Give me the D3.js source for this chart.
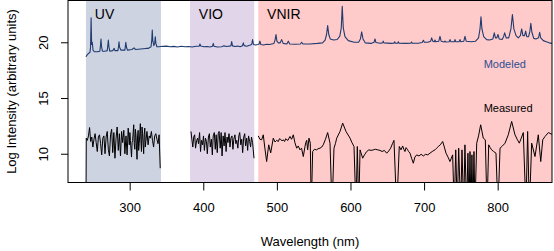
<!DOCTYPE html>
<html>
<head>
<meta charset="utf-8">
<script src="https://cdn.jsdelivr.net/npm/d3@7"></script>
<style>
  body { margin: 0; background: #fff; }
  svg { display: block; font-family: "Liberation Sans", Arial, Helvetica, sans-serif; }
</style>
</head>
<body>
<svg width="554" height="251"></svg>
<script>
// Spectral regions (nm)
const regions = [
  { name: "UV",   start: 240.6, end: 342.5, color: "#cdd3e1" },
  { name: "VIO",  start: 382.0, end: 469.3, color: "#e1d5ea" },
  { name: "VNIR", start: 474.7, end: 880.0, color: "#ffcaca" }
];

const xTicks = [300, 400, 500, 600, 700, 800];
const yTicks = [10, 15, 20];

// Modeled spectrum [wavelength, log intensity]
const modeled = [
  [240.6,18.70],[242,18.85],[244,19.00],[246,19.10],[246.8,19.5],[247.6,22.2],[248.3,19.8],[249.2,20.0],[250.2,19.3],
  [252,19.15],[256,19.15],[259.5,19.2],[260.3,19.7],[261,20.3],[261.8,19.6],[263,19.2],[266,19.2],[269.5,19.25],
  [270.3,19.7],[271,20.2],[271.8,19.6],[273,19.2],[277,19.25],[279,19.45],[280,19.25],[284,19.25],[284.8,19.6],
  [285.5,20.05],[286.3,19.55],[288,19.3],[293.5,19.3],[294.2,19.7],[294.8,20.0],[295.5,19.6],[297,19.3],[303,19.35],
  [306,19.5],[308,19.35],[315,19.4],[322,19.45],[325,19.45],[329,19.6],[330,20.2],[330.7,21.1],[331.5,20.1],
  [332.8,19.7],[334,19.9],[334.8,20.5],[335.6,19.9],[337,19.6],[340,19.6],[342,19.62],[350,19.66],[355,19.6],
  [360,19.63],[365,19.58],[370,19.65],[375,19.6],[380,19.62],[385,19.58],[390,19.64],[394.5,19.66],[395.5,19.85],
  [396.5,19.66],[401,19.6],[405,19.62],[409,19.58],[412.5,19.64],[413.6,19.9],[414.6,19.64],[419,19.58],[425,19.6],
  [428,19.68],[432,19.62],[437.5,19.68],[438.6,20.06],[439.7,19.68],[443,19.62],[447,19.66],[450,19.6],
  [453.3,19.7],[454.4,19.95],[455.5,19.7],[459,19.65],[462,19.72],[465.8,19.8],[467,20.24],[468.2,19.8],[471,19.75],[474,19.8],
  [475.8,19.85],[477,20.1],[478.2,19.8],[482,19.75],[486,19.82],[490,19.8],[496,19.9],[497.5,20.2],[498.8,20.7],[500,20.1],
  [502,19.95],[504.5,19.95],[506.5,20.24],[508.5,19.9],[513.5,19.85],[515.5,20.1],[517.5,19.85],[525,19.82],
  [532,19.85],[533.7,20.0],[535.4,19.85],[545,19.85],[555,19.9],[562,19.95],[565.5,20.2],[567.5,20.7],[569,21.5],
  [570.5,20.7],[572.5,20.3],[577,20.2],[582,20.25],[585.5,20.55],[587.5,21.3],[588.8,23.24],[590.2,21.3],
  [592.5,20.5],[597,20.15],[605,20.0],[611,20.0],[613.5,20.3],[615.2,20.93],[617,20.3],[620,19.95],[628,19.9],
  [632,20.0],[633.3,20.3],[634.6,19.98],[640,19.92],[643.5,19.95],[644.5,20.1],[645.5,19.95],[655,19.9],
  [659,19.92],[660,20.05],[661,19.92],[664,19.92],[665,20.05],[666,19.92],[675,19.9],[682,19.92],[683,20.02],
  [684,19.92],[692,19.92],[697.5,19.98],[699,20.18],[700.5,20.0],[705,20.0],[709,20.1],[710.3,20.4],[711.8,20.1],
  [713.8,20.05],[714.8,20.2],[715.8,20.05],[720,20.1],[721.6,20.54],[723.2,20.1],[727.4,20.02],[728.4,20.12],
  [729.4,20.02],[734,20.05],[735.2,20.24],[736.4,20.05],[741,20.05],[742,20.24],[743,20.05],[747.6,20.05],
  [748.8,20.24],[750,20.05],[754,20.1],[755.6,20.54],[757.2,20.1],[764,20.05],[770,20.1],[774,20.4],[776,21.2],
  [777.3,22.28],[778.6,21.2],[781,20.5],[785,20.24],[789,20.2],[793.5,20.3],[795.4,20.85],[797,20.4],[798.8,20.4],
  [800.4,20.7],[802,20.3],[806,20.25],[808,20.5],[809.5,20.85],[811.5,20.4],[815,20.4],[818,21.2],[820,22.5],
  [822,21.2],[825,20.6],[828,20.4],[830.8,20.6],[832.6,21.2],[834.3,20.6],[836.5,20.6],[838,21.0],[839.5,20.5],
  [842,20.5],[843.8,21.0],[845,21.7],[846.5,20.9],[849,20.35],[852,20.3],[855.5,20.4],[857,20.9],[858.5,20.4],
  [862,20.15],[866,20.05],[870,19.95],[874,19.9]
];

// Measured spectrum, one piece per detector
const measUV = [
  [240.6,5],[241,11.4],[242.5,11.2],[244,11.6],[245.5,12.35],[247,11.1],[248.5,11.5],[250,10.6],[251.5,11.3],
  [253,11.8],[254.5,11.0],[256,10.2],[257.5,11.5],[259,11.7],[260.5,10.9],[262,9.9],[263.5,11.4],[265,11.6],
  [266.5,10.0],[268,11.5],[269.5,12.0],[271,10.4],[272.5,9.8],[274,11.7],[275.5,12.2],[277,10.1],[278.5,11.9],
  [280,9.6],[281.5,11.4],[283,12.4],[284.5,10.3],[286,11.8],[287.5,9.8],[289,12.0],[290.5,11.0],[292,12.1],
  [293.5,10.0],[295,11.6],[296.5,9.9],[298,12.3],[299.5,10.8],[300.3,11.9],[301,11.2],[302.5,9.7],[303.3,11.0],[304,11.2],
  [305.5,12.6],[306.2,10.9],[307,10.4],[307.8,12.2],[308.5,11.7],[310,9.5],[310.7,11.6],[311.5,12.1],[312.2,10.3],
  [313,10.9],[314.5,12.7],[315.2,11.3],[316,10.2],[316.8,12.4],[317.5,11.8],[319,10.0],[319.7,11.7],[320.5,12.3],
  [321.2,10.6],[322,11.1],[323.5,12.0],[325,10.8],[326.5,11.6],[328,11.4],[329.5,12.0],[331,11.2],[332.5,10.6],
  [334,11.6],[335.5,11.8],[337,11.3],[338.5,10.9],[340,11.7],[341.5,8.7]
];
const measVIO = [
  [383.3,12.0],[384.5,11.3],[385.8,10.6],[387,11.5],[388.3,11.7],[389.5,10.5],[391,11.2],[392.3,11.4],[393.5,10.9],
  [395,11.9],[396.3,10.2],[397.5,11.2],[399,10.8],[400.3,11.6],[401.5,10.3],[403,11.4],[404.3,11.1],[405.5,10.0],
  [407,11.5],[408.3,11.8],[409.5,10.6],[411,11.3],[412.3,9.9],[413.5,11.6],[415,11.9],[416.3,10.4],[417.5,11.7],
  [419,10.1],[420.3,11.8],[421.5,12.0],[423,10.5],[424.3,11.9],[425.5,9.8],[427,11.6],[428.3,10.7],[429.5,11.9],
  [431,10.2],[432.3,11.5],[433.5,11.0],[435,11.8],[436.3,10.6],[437.5,11.4],[439,11.6],[440.3,10.4],[441.5,11.3],
  [443,11.7],[444.3,10.9],[445.5,11.2],[447,10.5],[448.3,11.6],[449.5,11.9],[451,10.8],[452.3,11.3],[453.5,10.1],
  [455,11.5],[456.3,11.8],[457.5,10.7],[459,11.4],[460.3,10.3],[461.5,11.6],[463,11.1],[464.3,10.6],[465.5,11.5],
  [467,11.0],[468.9,9.6]
];
const measVNIR = [
  [474.7,11.6],[477,11.3],[479.3,11.25],[481.5,11.7],[483.5,10.6],[486.1,9.3],[488.9,10.8],[491.6,10.08],[495.1,11.4],
  [497.5,11.05],[499.7,11.2],[502,11.1],[503.5,11.35],[505,11.3],[507,11.15],[508.8,11.25],[510.5,11.1],[512,11.35],
  [513.5,11.25],[515,11.2],[516.5,11.4],[517.8,11.55],[520,11.3],[522.3,11.7],[524.5,11.0],[526.9,10.5],[529,10.7],
  [531.4,10.35],[533.5,10.5],[535.9,9.75],[538.2,10.65],[539.3,11.0],[540.5,11.2],[541.8,10.35],[543.6,11.4],
  [545.4,10.95],[546.7,5],[548.6,10.2],[551,10.4],[554,10.35],[556,10.45],[558.6,10.5],[561,10.6],[563,10.8],
  [566,11.3],[569,11.9],[572.2,10.95],[574.9,5],[577.6,10.5],[579.5,10.9],[581.3,11.4],[585.8,12.0],
  [589.4,12.75],[593.9,12.0],[599.4,11.4],[602,11.0],[604.8,10.65],[607.5,5],[609.3,10.65],[611.2,5],[613,10.35],
  [616.6,9.6],[619,9.9],[622,10.2],[625,10.35],[628,10.3],[631,10.35],[634,10.4],[637,10.35],[640.1,10.3],
  [643,10.2],[646,10.3],[649.2,10.05],[652,10.25],[654.6,10.5],[657,10.9],[659.1,11.2],[662.8,5],[666.3,10.65],
  [668.6,10.35],[670.9,10.7],[672.5,10.4],[674,10.2],[675.5,10.55],[677.2,10.4],[679,10.2],[680.9,10.05],
  [683,9.6],[685.4,9.15],[687.5,9.7],[690,9.9],[693,9.8],[696,9.95],[699,9.8],[702,9.95],[705,9.9],[708,10.05],
  [711,10.2],[714.8,10.35],[717,10.5],[719.3,10.65],[722,10.8],[725.3,11.1],[727.5,10.6],[729.8,10.05],[732.5,9.7],
  [735.2,9.3],[738.8,9.9],[741,5],[743,10.35],[745.1,5],[747,10.5],
  [749.7,5],[751.5,10.35],[753.8,5],[755.5,10.8],[757.8,5],[759.6,10.05],[761,5],[762.4,10.2],[763.7,5],[765,9.9],
  [766.4,5],[767.8,10.2],[769.1,5],[771.5,10.95],[774,11.6],[776.9,12.6],[780.4,11.4],[783.2,11.25],[785.5,5],[787.8,10.8],
  [789.8,10.55],[791.8,10.35],[794.5,10.2],[797.7,10.05],[800.4,5],[803.2,10.5],[806.5,10.7],[810,10.95],[814.4,11.7],
  [819,12.9],[823.5,11.7],[826.5,11.3],[829.4,10.95],[832,11.4],
  [834.8,11.9],[838.4,5],[840.7,12.0],[843,5],[846.2,10.95],[850.7,9.75],[855.2,11.7],[858.5,9.3],[861.2,11.25],
  [864.3,11.55],[868.9,11.9],[874.8,11.7]
];

const svg = d3.select("svg");
const x = d3.scaleLinear().domain([216.2, 873.8]).range([68, 552]);
const y = d3.scaleLinear().domain([7.42, 23.75]).range([182.5, 0.5]);

svg.append("clipPath").attr("id", "plotclip")
  .append("rect")
    .attr("x", x(216.2)).attr("y", y(23.75))
    .attr("width", x(873.8) - x(216.2)).attr("height", y(7.42) - y(23.75));

const plot = svg.append("g").attr("clip-path", "url(#plotclip)");

// Shaded detector regions
plot.selectAll("rect.region")
  .data(regions)
  .enter().append("rect")
    .attr("class", "region")
    .attr("x", d => x(d.start))
    .attr("y", y(23.75))
    .attr("width", d => x(d.end) - x(d.start))
    .attr("height", y(7.42) - y(23.75))
    .attr("fill", d => d.color);

plot.selectAll("text.region")
  .data(regions)
  .enter().append("text")
    .attr("x", d => x(d.start + 12))
    .attr("y", 19)
    .style("font-size", "14px")
    .attr("fill", "#000")
    .text(d => d.name);

const line = d3.line().x(d => x(d[0])).y(d => y(d[1]));

plot.append("path")
  .datum(modeled)
  .attr("d", line)
  .attr("fill", "none")
  .attr("stroke", "#1f3b70")
  .attr("stroke-width", 1.1)
  .attr("stroke-linejoin", "round");

[measUV, measVIO, measVNIR].forEach(seg => {
  plot.append("path")
    .datum(seg)
    .attr("d", line)
    .attr("fill", "none")
    .attr("stroke", "#000")
    .attr("stroke-width", 1)
    .attr("stroke-linejoin", "round");
});

// Series labels
svg.append("text")
  .attr("x", x(781)).attr("y", 68)
  .style("font-size", "11px")
  .attr("fill", "#2d4f91")
  .text("Modeled");
svg.append("text")
  .attr("x", x(781)).attr("y", 111.5)
  .style("font-size", "11px")
  .attr("fill", "#000")
  .text("Measured");

// Box
svg.append("rect")
  .attr("x", x(216.2)).attr("y", y(23.75))
  .attr("width", x(873.8) - x(216.2)).attr("height", y(7.42) - y(23.75))
  .attr("fill", "none")
  .attr("stroke", "#000")
  .attr("stroke-width", 1);

// X axis
const xAxis = svg.append("g")
  .attr("transform", `translate(0,${y(7.42)})`)
  .call(d3.axisBottom(x).tickValues(xTicks).tickSize(8).tickPadding(12).tickFormat(d3.format("d")));
xAxis.select(".domain").remove();
xAxis.selectAll("text").style("font-size", "13px").attr("fill", "#000").attr("font-family", null);
xAxis.selectAll("line").attr("stroke", "#000");

// Y axis
const yAxis = svg.append("g")
  .attr("transform", `translate(${x(216.2)},0)`)
  .call(d3.axisLeft(y).tickValues(yTicks).tickSize(7));
yAxis.select(".domain").remove();
yAxis.selectAll("line").attr("stroke", "#000");
yAxis.selectAll("text")
  .style("font-size", "13px")
  .attr("fill", "#000")
  .attr("font-family", null)
  .attr("transform", "rotate(-90)")
  .attr("x", 0)
  .attr("y", -20.5)
  .attr("dy", 0)
  .attr("text-anchor", "middle");

// Axis titles
svg.append("text")
  .attr("x", (x(216.2) + x(873.8)) / 2)
  .attr("y", 246)
  .attr("text-anchor", "middle")
  .style("font-size", "13px")
  .text("Wavelength (nm)");

svg.append("text")
  .attr("transform", `translate(15.5,${(y(7.42) + y(23.75)) / 2}) rotate(-90)`)
  .attr("text-anchor", "middle")
  .style("font-size", "13px")
  .text("Log Intensity (arbitrary units)");
</script>
</body>
</html>
